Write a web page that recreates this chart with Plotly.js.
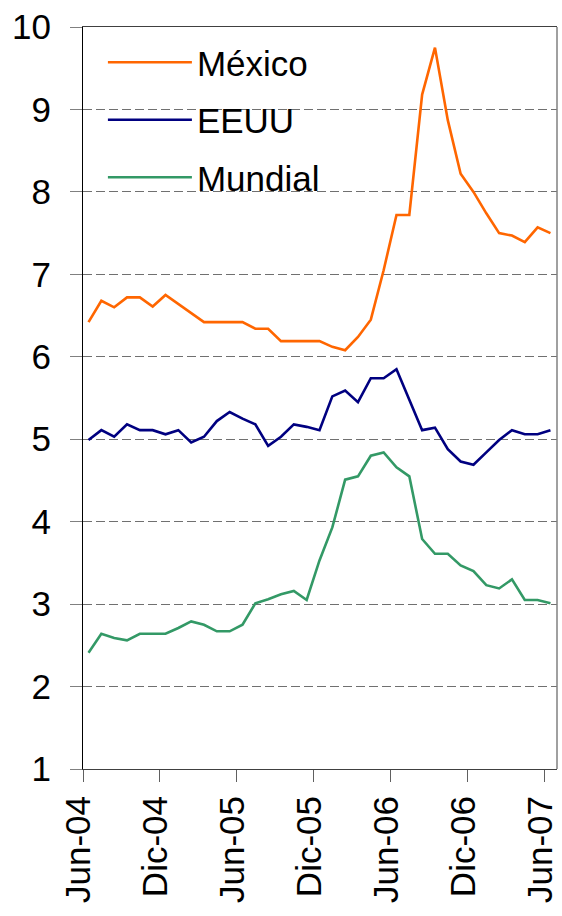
<!DOCTYPE html>
<html>
<head>
<meta charset="utf-8">
<script src="https://cdn.plot.ly/plotly-3.0.1.min.js"></script>
<style>html,body{margin:0;padding:0;background:#fff;}#chart{width:562px;height:916px;}</style>
</head>
<body>
<div id="chart"></div>
<script>
const months = ["Jun-04","Jul-04","Ago-04","Sep-04","Oct-04","Nov-04","Dic-04","Ene-05","Feb-05","Mar-05","Abr-05","May-05",
  "Jun-05","Jul-05","Ago-05","Sep-05","Oct-05","Nov-05","Dic-05","Ene-06","Feb-06","Mar-06","Abr-06","May-06",
  "Jun-06","Jul-06","Ago-06","Sep-06","Oct-06","Nov-06","Dic-06","Ene-07","Feb-07","Mar-07","Abr-07","May-07","Jun-07"];
const mexico = [6.42,6.68,6.60,6.72,6.72,6.61,6.75,6.64,6.54,6.42,6.42,6.42,6.42,6.34,6.34,6.19,6.19,6.19,6.19,6.12,6.08,6.24,6.45,7.05,7.72,7.72,9.18,9.75,8.87,8.22,8.00,7.74,7.50,7.47,7.39,7.57,7.50];
const eeuu = [4.99,5.11,5.03,5.18,5.11,5.11,5.06,5.11,4.96,5.03,5.22,5.33,5.25,5.18,4.92,5.03,5.18,5.15,5.11,5.52,5.59,5.45,5.74,5.74,5.85,5.47,5.11,5.14,4.88,4.73,4.69,4.84,4.99,5.11,5.06,5.06,5.11];
const mundial = [2.41,2.64,2.59,2.56,2.64,2.64,2.64,2.71,2.79,2.75,2.67,2.67,2.75,3.01,3.06,3.12,3.16,3.05,3.53,3.93,4.51,4.55,4.80,4.84,4.66,4.55,3.79,3.61,3.61,3.47,3.40,3.23,3.19,3.30,3.05,3.05,3.01];
const tickLabels = ["Jun-04","Dic-04","Jun-05","Dic-05","Jun-06","Dic-06","Jun-07"];
const seriesNames = ["México","EEUU","Mundial"];
const colors = ["#FF6600","#000080","#339966"];

const xIdx = months.map((m,i)=>i);
const tickIdx = tickLabels.map(t => months.indexOf(t) - 0.43);
const series = [mexico, eeuu, mundial];

const traces = series.map((ys,k)=>({
  x: xIdx, y: ys, text: months, type: 'scatter', mode: 'lines',
  name: seriesNames[k], legendgroup: 'g'+k,
  line: {color: colors[k], width: 2.6},
  hovertemplate: '%{text}: %{y}<extra>'+seriesNames[k]+'</extra>'
}));

const FONT = "Liberation Sans, Arial, sans-serif";
const layout = {
  width: 562, height: 916,
  margin: {l: 83, r: 5, t: 27, b: 147, pad: 0},
  paper_bgcolor: '#fff', plot_bgcolor: '#fff',
  font: {family: FONT, color: '#000', size: 34},
  showlegend: true,
  legend: {
    x: 0.042, y: 0.992, xanchor: 'left', yanchor: 'top',
    bgcolor: 'rgba(0,0,0,0)', borderwidth: 0,
    font: {family: FONT, size: 35, color: '#000'},
    itemwidth: 84, traceorder: 'grouped', tracegroupgap: 9
  },
  xaxis: {
    range: [-0.43, 36.51], tickvals: tickIdx, ticktext: tickLabels,
    tickangle: -90, ticks: 'outside', ticklen: 12, tickcolor: '#606060', tickwidth: 1,
    showline: true, linecolor: '#404040', linewidth: 1, mirror: true,
    showgrid: false, zeroline: false, ticklabeloverflow: 'allow', ticklabelshift: -4,
    tickfont: {family: FONT, size: 35, color: '#000'}
  },
  yaxis: {
    range: [1, 10], dtick: 1, tick0: 0,
    ticks: 'outside', ticklen: 12, tickcolor: '#808080', tickwidth: 1,
    showline: true, linecolor: '#000', linewidth: 1,
    showgrid: true, gridcolor: '#707070', gridwidth: 1, griddash: '9px,4px',
    zeroline: false, ticklabelstandoff: 12,
    tickfont: {family: FONT, size: 35, color: '#000'}
  },
  shapes: [
    {type: 'rect', layer: 'between', xref: 'paper', yref: 'y', x0: 0.002, x1: 0.597, y0: 7.6, y1: 9.9,
     fillcolor: '#fff', line: {width: 0}},
    {type: 'line', xref: 'paper', yref: 'paper', x0: 1, x1: 1, y0: 0, y1: 1, line: {color: '#808080', width: 1.5}}
  ]
};

Plotly.newPlot('chart', traces, layout, {displayModeBar: false, staticPlot: true});
</script>
</body>
</html>
